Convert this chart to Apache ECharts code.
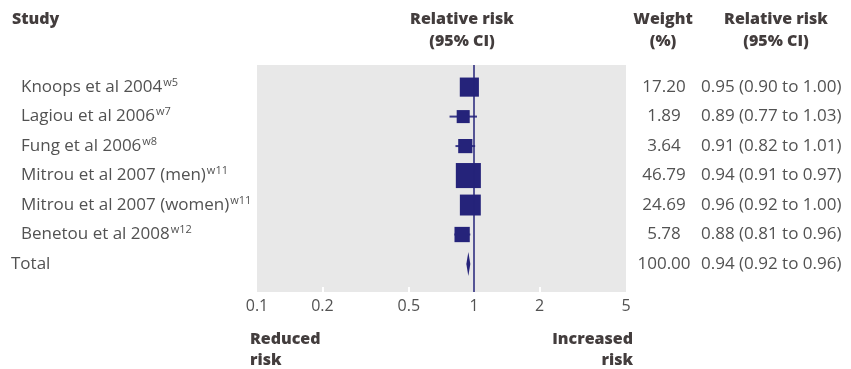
<!DOCTYPE html>
<html><head><meta charset="utf-8">
<script src="https://cdn.jsdelivr.net/npm/echarts@6/dist/echarts.min.js"></script>
<style>html,body{margin:0;padding:0;background:#fff}#c{width:851px;height:369px}</style>
</head><body><div id="c"></div>
<script>
const studies = ['Knoops et al 2004','Lagiou et al 2006','Fung et al 2006','Mitrou et al 2007 (men)','Mitrou et al 2007 (women)','Benetou et al 2008','Total'];
const refs = ['w5','w7','w8','w11','w11','w12',''];
const weights = [17.20,1.89,3.64,46.79,24.69,5.78,100.00];
const rr = [0.95,0.89,0.91,0.94,0.96,0.88,0.94];
const lower = [0.90,0.77,0.82,0.91,0.92,0.81,0.92];
const upper = [1.00,1.03,1.01,0.97,1.00,0.96,0.96];
const tickValues = [0.1,0.2,0.5,1,2,5];
const innerTicks = [0.2,0.5,2];

const FONT = 'Open Sans';
const TXT = '#525252';
const HEAD = '#433d3d';
const NAVY = '#25237a';
const totalIdx = studies.length - 1;

const ciText = rr.map((v,i)=>`${v.toFixed(2)} (${lower[i].toFixed(2)} to ${upper[i].toFixed(2)})`);
const wText = weights.map(w=>w.toFixed(2));

const studyRows = studies.slice(0, totalIdx).map((s,i)=>[lower[i], upper[i], rr[i], i, weights[i]]);
const totalRow = [[lower[totalIdx], upper[totalIdx], rr[totalIdx], totalIdx]];

const fmtTick = v => String(+(+v).toPrecision(3));

const chart = echarts.init(document.getElementById('c'), null, {renderer:'canvas'});
const headStyle = {fontFamily: FONT, fontSize: 16, fontWeight: 800, fill: HEAD, lineHeight: 22};
chart.setOption({
  animation: false,
  backgroundColor: '#ffffff',
  textStyle: {fontFamily: FONT},
  grid: [
    {left: 257, right: 225, top: 65, bottom: 77, show: true, backgroundColor: '#e8e8e8', borderWidth: 0, outerBoundsMode: 'none'},
    {left: 257, right: 225, top: 72.25, height: 206.5, show: false, outerBoundsMode: 'none'}
  ],
  xAxis: [
    {gridIndex: 0, type: 'log', logBase: 10, min: 0.1, max: 5, position: 'bottom',
     axisLine: {show: false, onZero: false}, splitLine: {show: false}, minorTick: {show: false},
     axisTick: {show: true, inside: true, length: 5, customValues: innerTicks, lineStyle: {color: '#ffffff', width: 2}},
     axisLabel: {customValues: tickValues, formatter: fmtTick, margin: 6, color: TXT, fontSize: 16, fontFamily: FONT}},
    {gridIndex: 1, type: 'log', logBase: 10, min: 0.1, max: 5, show: false}
  ],
  yAxis: [
    {gridIndex: 0, type: 'value', min: -0.75, max: 6.95, inverse: true, show: false},
    {gridIndex: 1, type: 'category', data: studies, inverse: true, position: 'left',
     axisLine: {show: false}, axisTick: {show: false}, splitLine: {show: false},
     axisLabel: {interval: 0, align: 'left', margin: 246, color: TXT, fontSize: 17, fontFamily: FONT,
       formatter: (v, i) => refs[i] ? `{st|${v}}{sup|${refs[i]}}` : `{tot|${v}}`,
       rich: {
         st: {fontSize: 17, color: TXT, fontFamily: FONT, padding: [0,0,0,10]},
         tot: {fontSize: 17, color: TXT, fontFamily: FONT},
         sup: {fontSize: 11, color: TXT, fontFamily: FONT, verticalAlign: 'top', padding: [0,0,9,1]}
       }}},
    {gridIndex: 1, type: 'category', data: wText, inverse: true, position: 'right',
     axisLine: {show: false}, axisTick: {show: false}, splitLine: {show: false},
     axisLabel: {interval: 0, align: 'center', margin: 38, color: TXT, fontSize: 17, fontFamily: FONT}},
    {gridIndex: 1, type: 'category', data: ciText, inverse: true, position: 'right',
     axisLine: {show: false}, axisTick: {show: false}, splitLine: {show: false},
     axisLabel: {interval: 0, align: 'left', margin: 75, color: TXT, fontSize: 17, fontFamily: FONT}}
  ],
  series: [
    {type: 'custom', xAxisIndex: 0, yAxisIndex: 0, data: studyRows, silent: true, z: 2,
     encode: {x: [0,1], y: 3},
     renderItem: (params, api) => {
       const a = api.coord([api.value(0), api.value(3)]);
       const b = api.coord([api.value(1), api.value(3)]);
       return {type: 'line', shape: {x1: a[0], y1: a[1], x2: b[0], y2: b[1]},
               style: {stroke: '#3b3a8a', lineWidth: 2}};
     }},
    {type: 'scatter', xAxisIndex: 0, yAxisIndex: 0, data: studyRows.map(r=>[r[2], r[3], r[4]]),
     symbol: 'rect', symbolSize: v => 10 + 2.2 * Math.sqrt(v[2]), z: 3, silent: true,
     itemStyle: {color: NAVY, opacity: 1},
     markLine: {silent: true, symbol: 'none', label: {show: false},
       lineStyle: {color: NAVY, width: 1.5, type: 'solid'},
       data: [{xAxis: 1}]}},
    {type: 'custom', xAxisIndex: 0, yAxisIndex: 0, data: totalRow, silent: true, z: 3,
     encode: {x: [0,1], y: 3},
     renderItem: (params, api) => {
       const y = api.value(3);
       const l = api.coord([api.value(0), y]);
       const m = api.coord([api.value(2), y]);
       const r = api.coord([api.value(1), y]);
       const h = 12;
       return {type: 'polygon', shape: {points: [[l[0], l[1]], [m[0], m[1]-h], [r[0], r[1]], [m[0], m[1]+h]]},
               style: {fill: NAVY}};
     }}
  ],
  graphic: [
    {type: 'text', x: 12, y: 8, style: Object.assign({text: 'Study', align: 'left', verticalAlign: 'top'}, headStyle)},
    {type: 'text', x: 462, y: 8, style: Object.assign({text: 'Relative risk\n(95% CI)', align: 'center', verticalAlign: 'top'}, headStyle)},
    {type: 'text', x: 663, y: 8, style: Object.assign({text: 'Weight\n(%)', align: 'center', verticalAlign: 'top'}, headStyle)},
    {type: 'text', x: 776, y: 8, style: Object.assign({text: 'Relative risk\n(95% CI)', align: 'center', verticalAlign: 'top'}, headStyle)},
    {type: 'text', x: 250, y: 329, style: Object.assign({text: 'Reduced\nrisk', align: 'left', verticalAlign: 'top'}, headStyle, {lineHeight: 21})},
    {type: 'text', x: 633, y: 329, style: Object.assign({text: 'Increased\nrisk', align: 'right', verticalAlign: 'top'}, headStyle, {lineHeight: 21})}
  ]
});
</script></body></html>
